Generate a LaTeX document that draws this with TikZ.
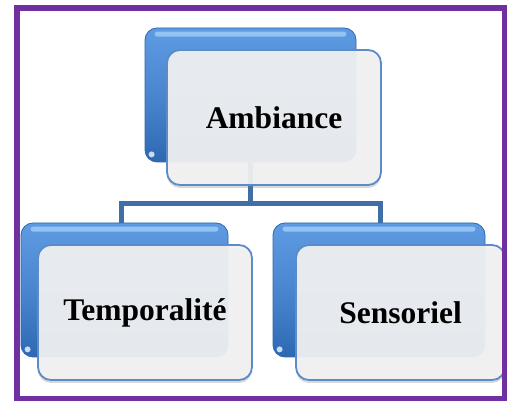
\documentclass[tikz,border=0pt]{standalone}
\usepackage{fontspec}
\setmainfont{Liberation Serif}
\usetikzlibrary{shadows,calc}
\definecolor{frameP}{HTML}{7030A0}
\definecolor{boxblue}{HTML}{4A86D0}
\definecolor{boxtop}{HTML}{5E9BE2}
\definecolor{boxdark}{HTML}{2E68B2}
\definecolor{boxlight}{HTML}{9CCBF7}
\definecolor{frontedge}{HTML}{5B8BC9}
\definecolor{frontfill}{HTML}{F3F3F3}
\definecolor{linkc}{HTML}{3F6FA6}
\begin{document}
\begin{tikzpicture}[x=1pt,y=-1pt,
  backbox/.style={rectangle, rounded corners=12pt, inner sep=0pt,
    draw=boxdark, line width=0.8pt,
    top color=boxtop, bottom color=boxdark, middle color=boxblue},
  frontbox/.style={rectangle, rounded corners=13pt, inner sep=0pt,
    draw=frontedge, line width=1.8pt, fill=frontfill, fill opacity=0.92,
    text opacity=1,
    drop shadow={shadow xshift=0pt, shadow yshift=-3pt, opacity=0.3},
    font=\bfseries\fontsize{31.5}{36}\selectfont, text=black},
  link/.style={draw=linkc, line width=5pt},
  gloss/.style={fill=boxlight, opacity=0.85, rounded corners=2.5pt},
  spot/.style={fill=white, opacity=0.75}]
\useasboundingbox (0,0) rectangle (507,401);
\fill[white] (0,0) rectangle (507,401);

% back boxes
\node[backbox, minimum width=211pt, minimum height=134pt] (tb) at (250.5,95) {};
\node[backbox, minimum width=207pt, minimum height=134pt] (lb) at (124.5,290) {};
\node[backbox, minimum width=212pt, minimum height=134pt] (rb) at (379,290) {};

\foreach \b in {tb,lb,rb}{
  \fill[gloss] ($(\b.north west)+(10,4)$) rectangle ($(\b.north east)+(-10,9)$);
  \fill[spot] ($(\b.south west)+(7,-8)$) circle (3pt);
}

% connectors
\coordinate (jl) at (121,204);
\coordinate (jr) at (380,204);
\draw[link] (tb.south) |- (jl) -- (jl |- lb.north);
\draw[link] (tb.south) |- (jr) -- (jr |- rb.north);

% front boxes
\node[frontbox, minimum width=214pt, minimum height=135pt] (tf) at (274,117.5) {Ambiance};
\node[frontbox, minimum width=214pt, minimum height=135pt] (lf) at (145,312.5) {Temporalité};
\node[frontbox, minimum width=209pt, minimum height=135pt] (rf) at (400.5,312.5) {Sensoriel};

% frame
\draw[frameP, line width=6pt] (17,8) rectangle (505,399);
\end{tikzpicture}
\end{document}
